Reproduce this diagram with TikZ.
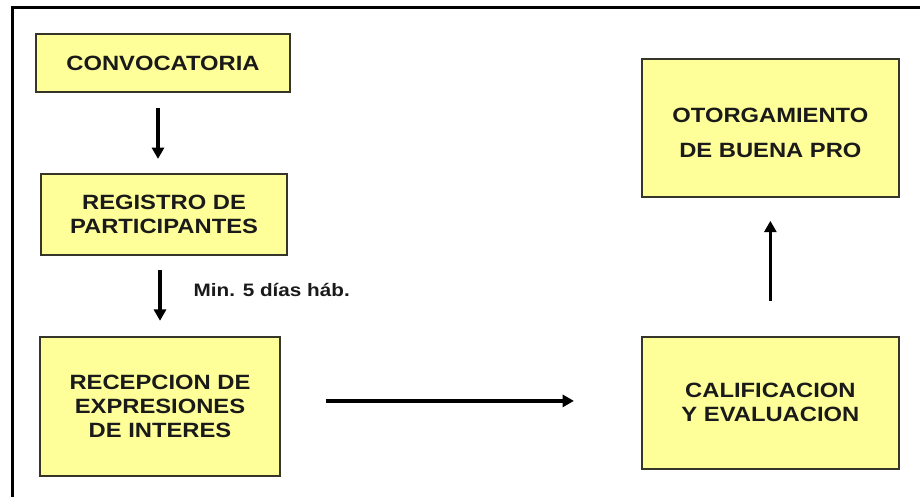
\documentclass[tikz,border=0pt]{standalone}
\usepackage{fontspec}
\setmainfont{Liberation Sans}[FakeStretch=1.15]
\usetikzlibrary{arrows.meta,positioning}
\definecolor{stagefill}{HTML}{FFFF99}
\definecolor{stageline}{HTML}{35352A}
\definecolor{stagetext}{HTML}{1A1A1A}
\tikzset{%
  % Specifications for style of arrows:
   step arrow/.style={
           -{Triangle[length=8.5pt,width=9pt]},
           line width=2.6pt,
           black},
  % Specifications for style of nodes:
   stage/.style = {rectangle, draw=stageline, fill=stagefill,
                  line width=1.4pt, align=center, text=stagetext,
                  font=\fontsize{15.5}{18}\selectfont\bfseries},
   note/.style = {font=\fontsize{13.5}{16}\selectfont\bfseries,
                  text=stagetext, inner sep=0pt},
   frame/.style = {line width=2.2pt, black},
}
\begin{document}
\begin{tikzpicture}
  \useasboundingbox (0,0) rectangle (690pt,-372.75pt);
  \draw[frame] (9.4pt,-372.75pt) -- (9.4pt,-5.6pt) -- (690pt,-5.6pt);

  % Specification of nodes (position, etc.)
  \node (conv) [stage, minimum width=190.5pt, minimum height=43.5pt]
        at (122.25pt,-47.25pt) {CONVOCATORIA};
  \node (reg)  [stage, minimum width=184.5pt, minimum height=60.75pt,
        below=60pt of conv, xshift=0.75pt] {REGISTRO DE\\PARTICIPANTES};
  \node (rec)  [stage, minimum width=180pt, minimum height=104.25pt,
        below=60pt of reg, xshift=-3pt] {RECEPCION DE\\EXPRESIONES\\DE INTERES};
  \node (cal)  [stage, minimum width=192.75pt, minimum height=99pt,
        right=270pt of rec, yshift=2.6pt] {CALIFICACION\\Y EVALUACION};
  \node (oto)  [stage, minimum width=192.75pt, minimum height=103.5pt,
        above=103.5pt of cal] {\rule{0pt}{18pt}OTORGAMIENTO\\[8pt]DE BUENA PRO};

  % Arrows between stages
  \draw[step arrow, shorten <=11.25pt, shorten >=10.5pt]
        ([xshift=-3.75pt]conv.south) -- ([xshift=-3.75pt]conv.south |- reg.north);
  \draw[step arrow, shorten <=10.5pt, shorten >=11.25pt]
        ([xshift=-3pt]reg.south) -- node[note, right=24pt, yshift=4.5pt] (plazo) {Min. 5 días háb.}
        ([xshift=-3pt]reg.south |- rec.north);
  \draw[step arrow, shorten <=33.75pt, shorten >=50.25pt]
        ([yshift=4pt]rec.east) -- ([yshift=4pt]rec.east -| cal.west);
  \draw[step arrow, shorten <=26.25pt, shorten >=17.25pt]
        (cal.north) -- (oto.south);
\end{tikzpicture}
\end{document}
